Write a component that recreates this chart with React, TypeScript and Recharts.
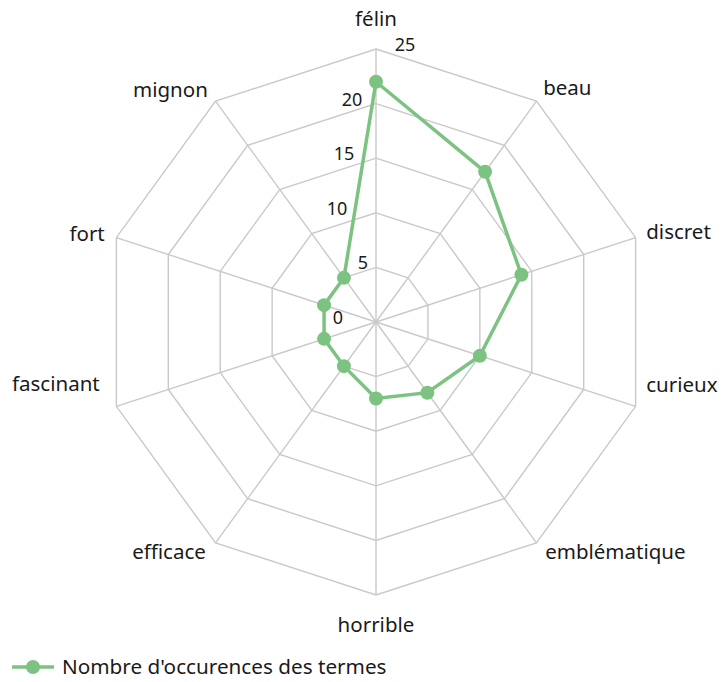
import React from "react";
import {
  RadarChart,
  Radar,
  PolarGrid,
  PolarAngleAxis,
  PolarRadiusAxis,
  Legend,
} from "recharts";

const terms = [
  "félin",
  "beau",
  "discret",
  "curieux",
  "emblématique",
  "horrible",
  "efficace",
  "fascinant",
  "fort",
  "mignon",
];
const occurences = [22, 17, 14, 10, 8, 7, 5, 5, 5, 5];
const radiusTicks = [0, 5, 10, 15, 20, 25];
const seriesName = "Nombre d'occurences des termes";

const data = terms.map((t, i) => ({ term: t, value: occurences[i] }));

const GREEN = "#7cc281";
const FONT = "'Noto Sans', sans-serif";

// label nudges so the text sits like the original
const angleNudge: Record<string, [number, number]> = {
  "félin": [0, -15],
  beau: [2, 0],
  discret: [3, 4],
  curieux: [3, -17],
  "emblématique": [4, 10],
  horrible: [0, 29],
  efficace: [-5, 10],
  fascinant: [-9, -18],
  fort: [-4, 6],
  mignon: [-3, 2],
};

const radiusNudge: Record<number, number> = {
  0: -38,
  5: -13,
  10: -39,
  15: -32,
  20: -24,
  25: 29,
};

function AngleTick(props: any) {
  const { x, y, payload, textAnchor } = props;
  const [dx, dy] = angleNudge[payload.value] ?? [0, 0];
  return (
    <text
      x={x + dx}
      y={y + dy}
      textAnchor={textAnchor}
      fontSize={20.5}
      fontFamily={FONT}
      fill="#1a1a1a"
    >
      {payload.value}
    </text>
  );
}

function RadiusTick(props: any) {
  const { x, y, payload } = props;
  const dx = radiusNudge[payload.value] ?? -25;
  return (
    <text
      x={x + dx}
      y={y + 2}
      textAnchor="middle"
      fontSize={18}
      fontFamily={FONT}
      fill="#1a1a1a"
    >
      {payload.value}
    </text>
  );
}

function GreenDot(props: any) {
  const { cx, cy, index } = props;
  return <circle key={index} cx={cx} cy={cy} r={7} fill={GREEN} />;
}

function LegendContent() {
  return (
    <svg width={420} height={30}>
      <line x1={4} y1={15} x2={46} y2={15} stroke={GREEN} strokeWidth={3.5} />
      <circle cx={25} cy={15} r={7} fill={GREEN} />
      <text x={54} y={22} fontSize={20.7} fontFamily={FONT} fill="#1a1a1a">
        {seriesName}
      </text>
    </svg>
  );
}

export default function App() {
  return (
    <div style={{ position: "absolute", left: 0, top: 0, background: "#fff" }}>
      <RadarChart
        width={721}
        height={682}
        data={data}
        cx={376}
        cy={322}
        outerRadius={273}
        margin={{ top: 0, right: 0, bottom: 0, left: 0 }}
      >
        <PolarGrid gridType="polygon" stroke="#c9c9c9" strokeWidth={1.4} />
        <PolarAngleAxis
          dataKey="term"
          tick={AngleTick}
          axisLine={false}
          tickLine={false}
        />
        <PolarRadiusAxis
          angle={90}
          domain={[0, 25]}
          ticks={radiusTicks as any}
          tickCount={6}
          tick={RadiusTick}
          axisLine={false}
          tickLine={false}
        />
        <Radar
          name={seriesName}
          dataKey="value"
          stroke={GREEN}
          strokeWidth={3.5}
          fill="none"
          fillOpacity={0}
          dot={GreenDot}
          isAnimationActive={false}
        />
        <Legend
          content={LegendContent}
          wrapperStyle={{ position: "absolute", left: 8, top: 652, width: 420 }}
        />
      </RadarChart>
    </div>
  );
}
